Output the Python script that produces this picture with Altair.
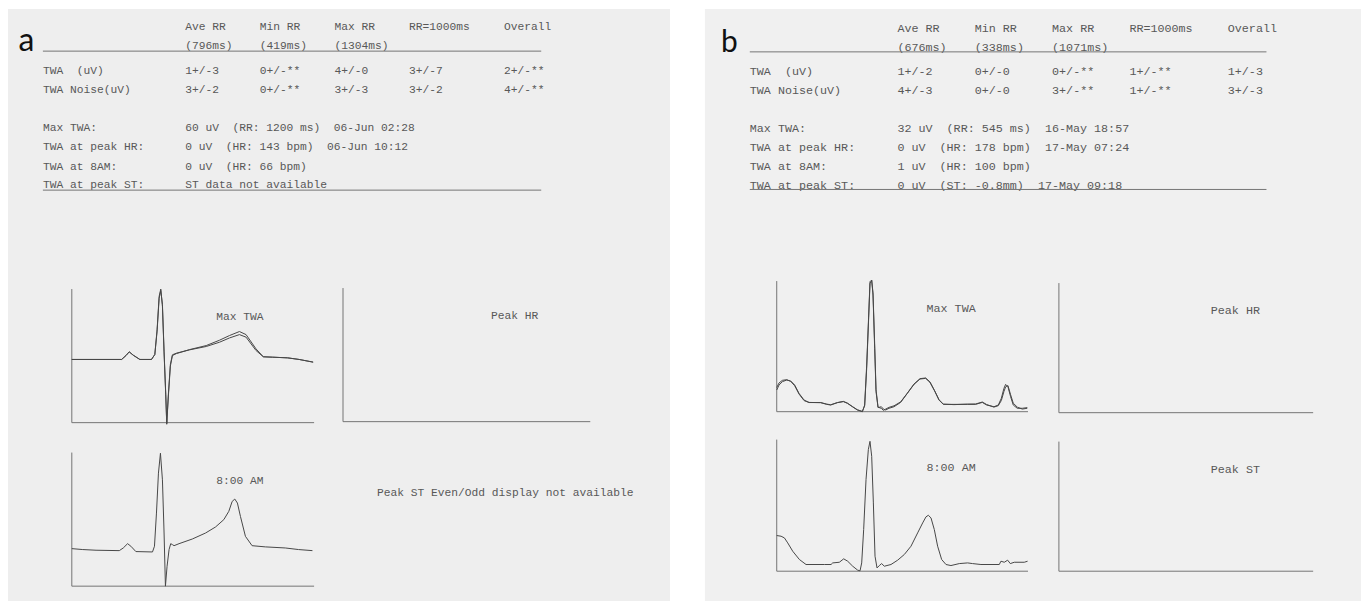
import altair as alt
import pandas as pd

NB = "\u00a0"  # non-breaking space keeps the printed spacing of the report

# ---------------- report text ----------------
COLUMNS = ["Ave RR", "Min RR", "Max RR", "RR=1000ms", "Overall"]
ROW_LABELS = ["TWA" + NB * 2 + "(uV)", "TWA Noise(uV)"]
SUMMARY_LABELS = ["Max TWA:", "TWA at peak HR:", "TWA at 8AM:", "TWA at peak ST:"]

A_RR_MS = ["(796ms)", "(419ms)", "(1304ms)"]
A_TWA = ["1+/-3", "0+/-**", "4+/-0", "3+/-7", "2+/-**"]
A_NOISE = ["3+/-2", "0+/-**", "3+/-3", "3+/-2", "4+/-**"]
A_MAX_TWA = ["60 uV", "(RR: 1200 ms)", "06-Jun 02:28"]
A_PEAK_HR = ["0 uV", "(HR: 143 bpm)", "06-Jun 10:12"]
A_AT_8AM = ["0 uV", "(HR: 66 bpm)"]
A_PEAK_ST = ["ST data not available"]

B_RR_MS = ["(676ms)", "(338ms)", "(1071ms)"]
B_TWA = ["1+/-2", "0+/-0", "0+/-**", "1+/-**", "1+/-3"]
B_NOISE = ["4+/-3", "0+/-0", "3+/-**", "1+/-**", "3+/-3"]
B_MAX_TWA = ["32 uV", "(RR: 545 ms)", "16-May 18:57"]
B_PEAK_HR = ["0 uV", "(HR: 178 bpm)", "17-May 07:24"]
B_AT_8AM = ["1 uV", "(HR: 100 bpm)"]
B_PEAK_ST = ["0 uV", "(ST: -0.8mm)", "17-May 09:18"]

A_NO_ST_MSG = "Peak ST Even/Odd display not available"

# ---------------- waveforms (time ms, amplitude % of panel) ----------------
A_MAX_T = [0, 102.8, 111.7, 118.5, 126.7, 140.4, 164.4, 171.3, 176.0, 180.2,
           183.6, 187.0, 190.4, 193.9, 195.9, 199.3, 203.4, 207.6, 215.8, 243.2,
           277.4, 304.8, 325.4, 345.9, 359.6, 380.2, 395.2, 414.4, 445.3, 469.2,
           498.0]
A_MAX_EVEN = [47.3, 47.3, 50.2, 53.0, 50.5, 47.3, 47.3, 51.0, 69.7, 94.5,
              100, 87.1, 52.2, 19.9, -1.2, 19.9, 42.3, 50.2, 51.7, 54.7,
              57.7, 61.7, 65.2, 68.2, 65.9, 55.2, 49.3, 49.0, 48.5, 47.3,
              45.3]
A_MAX_ODD = [47.3, 47.3, 50.2, 53.0, 50.5, 47.3, 47.3, 51.0, 68.5, 93.0,
             99.0, 88.5, 53.5, 21.0, -0.5, 21.5, 43.5, 50.8, 52.0, 54.5,
             57.0, 60.2, 63.4, 65.9, 64.0, 54.0, 49.3, 49.0, 48.5, 47.3,
             45.3]

A_8AM_T = [0, 22.6, 50.0, 98.0, 106.2, 115.1, 121.9, 132.2, 166.5, 170.6,
           174.7, 178.8, 182.9, 187.0, 190.4, 193.2, 196.6, 200.7, 204.1, 207.6,
           211.0, 221.3, 248.7, 276.1, 296.6, 313.7, 324.0, 330.9, 336.3, 341.8,
           348.0, 358.3, 372.0, 399.4, 440.5, 467.9, 496.6]
A_8AM_V = [28.1, 27.4, 26.9, 26.6, 28.6, 31.8, 29.9, 25.9, 25.6, 29.9,
           54.7, 84.6, 99.5, 79.6, 39.8, 0, 14.9, 27.4, 31.8, 31.1,
           30.3, 31.8, 35.3, 39.8, 44.3, 49.8, 56.0, 63.4, 65.2, 62.2,
           52.2, 37.3, 30.3, 29.4, 28.6, 27.4, 26.6]

B_MAX_T = [0, 4.6, 11.3, 19.9, 27.8, 35.8, 44.4, 54.4, 64.3, 87.5,
           99.5, 107.4, 120.7, 132.6, 140.6, 150.5, 160.4, 170.4, 175.0, 179.0,
           183.0, 185.6, 189.0, 191.6, 194.9, 197.6, 201.6, 208.2, 212.2, 216.8,
           223.4, 233.4, 246.6, 259.9, 273.2, 285.1, 296.4, 305.0, 314.3, 322.9,
           331.5, 352.7, 379.2, 395.8, 409.1, 417.7, 432.3, 440.9, 446.9, 452.2,
           455.5, 460.1, 465.4, 470.7, 478.7, 488.6, 498.6]
B_MAX_EVEN = [16.6, 20.4, 23.0, 24.2, 23.5, 20.4, 14.0, 8.9, 7.1, 6.9,
              5.6, 5.1, 6.9, 7.7, 6.4, 3.8, 1.3, 0, 5.1, 35.7,
              74.0, 99.5, 100.8, 89.3, 48.5, 15.3, 3.1, 3.8, 2.0, 1.3,
              2.6, 3.8, 7.1, 14.0, 20.9, 25.0, 25.5, 22.4, 15.8, 8.9,
              5.6, 5.6, 5.6, 5.6, 7.1, 5.1, 3.8, 5.1, 10.2, 17.9,
              20.9, 19.1, 11.5, 5.1, 2.6, 2.6, 3.1]
B_MAX_ODD = [18.5, 22.0, 24.0, 24.5, 23.2, 19.8, 13.5, 8.5, 7.0, 7.0,
             5.8, 5.3, 7.0, 7.9, 6.6, 4.0, 1.5, 0.2, 4.5, 33.0,
             72.0, 98.0, 100.5, 91.0, 52.0, 17.0, 3.5, 2.5, 1.0, 2.0,
             3.3, 4.5, 7.5, 14.2, 21.2, 25.3, 25.8, 22.8, 16.0, 9.2,
             5.8, 5.4, 5.8, 5.9, 7.4, 5.5, 3.5, 4.6, 8.5, 15.5,
             19.0, 20.0, 13.0, 6.5, 3.5, 2.0, 2.6]

B_8AM_T = [0, 8.6, 15.3, 21.9, 31.8, 45.1, 58.3, 94.8, 108.1, 111.4,
           124.6, 133.3, 141.2, 151.2, 161.1, 165.8, 169.1, 173.0, 177.7, 182.3,
           185.6, 189.0, 192.3, 195.6, 199.6, 204.2, 208.8, 214.1, 227.4, 240.7,
           253.9, 267.2, 280.4, 290.4, 297.0, 301.7, 307.0, 313.6, 320.2, 328.2,
           336.8, 346.7, 363.3, 379.9, 389.8, 406.4, 442.9, 446.2, 452.8, 459.5,
           464.8, 472.7, 492.6, 499.2]
B_8AM_V = [27.1, 26.6, 25.3, 21.5, 15.2, 8.9, 5.1, 5.1, 5.1, 6.3,
           6.8, 9.4, 7.6, 3.8, 0.8, 0.3, 6.3, 31.6, 69.6, 92.4,
           98.7, 87.3, 51.9, 11.4, 2.5, 4.3, 5.8, 3.8, 5.1, 8.4,
           12.7, 19.0, 29.1, 36.7, 41.3, 42.5, 40.5, 31.6, 19.0, 8.9,
           5.1, 4.3, 5.8, 6.3, 5.8, 5.1, 5.1, 7.6, 6.8, 8.4,
           5.8, 6.8, 6.8, 7.6]

# ---------------- styling / layout ----------------
MONO = "Liberation Mono"
TEXT_COLOR = "#585858"
RULE_COLOR = "#747474"
WAVE_COLOR = "#474747"
COL_POS = [21, 32, 43, 54, 68]          # printed character columns
LINES = {"head1": 0, "head2": 1, "twa": 2.25, "noise": 3.25,
         "sum": [5.2, 6.2, 7.2, 8.15], "rule1": 1.25, "rule2": 8.4}
RULE_END = 73.5


def header(rr, twa, noise, summaries, letter, xr, yr, fs, letter_col, letter_fs):
    rows = []
    for c, t in zip(COL_POS, COLUMNS):
        rows.append({"col": c, "line": LINES["head1"], "txt": t})
    for c, t in zip(COL_POS, rr):
        rows.append({"col": c, "line": LINES["head2"], "txt": t})
    rows.append({"col": 0, "line": LINES["twa"], "txt": ROW_LABELS[0]})
    rows.append({"col": 0, "line": LINES["noise"], "txt": ROW_LABELS[1]})
    for c, t in zip(COL_POS, twa):
        rows.append({"col": c, "line": LINES["twa"], "txt": t})
    for c, t in zip(COL_POS, noise):
        rows.append({"col": c, "line": LINES["noise"], "txt": t})
    for ln, lab, parts in zip(LINES["sum"], SUMMARY_LABELS, summaries):
        rows.append({"col": 0, "line": ln, "txt": lab})
        rows.append({"col": COL_POS[0], "line": ln, "txt": (NB * 2).join(parts)})
    df = pd.DataFrame(rows)
    xs = alt.Scale(domain=[0, 100], range=list(xr), nice=False, zero=False)
    ys = alt.Scale(domain=[0, 10], range=list(yr), nice=False, zero=False)
    text = alt.Chart(df).mark_text(
        align="left", baseline="middle", font=MONO, fontSize=fs, color=TEXT_COLOR
    ).encode(
        x=alt.X("col:Q", scale=xs, axis=None),
        y=alt.Y("line:Q", scale=ys, axis=None),
        text="txt:N",
    )
    rules_df = pd.DataFrame({"c0": [0, 0], "c1": [RULE_END, RULE_END],
                             "line": [LINES["rule1"], LINES["rule2"]]})
    rules = alt.Chart(rules_df).mark_rule(color=RULE_COLOR, strokeWidth=1).encode(
        x=alt.X("c0:Q", scale=xs, axis=None), x2="c1:Q",
        y=alt.Y("line:Q", scale=ys, axis=None),
    )
    lab_df = pd.DataFrame({"col": [letter_col], "line": [LINES["rule1"]], "txt": [letter]})
    lab = alt.Chart(lab_df).mark_text(
        align="left", baseline="alphabetic", font="Lato", fontSize=letter_fs, color="#111111"
    ).encode(
        x=alt.X("col:Q", scale=xs, axis=None),
        y=alt.Y("line:Q", scale=ys, axis=None),
        text="txt:N",
    )
    return alt.layer(text, rules, lab)


def panel(xr, yr, title, fs, series=None, frame=True, title_at=(347, 79), align="center"):
    xs = alt.Scale(domain=[0, 500], range=list(xr), nice=False, zero=False)
    ys = alt.Scale(domain=[0, 100], range=list(yr), nice=False, zero=False)
    layers = []
    if frame:
        fr = pd.DataFrame({"x": [0, 0], "y": [0, 0], "x2": [0, 500], "y2": [100, 0]})
        layers.append(alt.Chart(fr).mark_rule(color=RULE_COLOR, strokeWidth=1).encode(
            x=alt.X("x:Q", scale=xs, axis=None), x2="x2:Q",
            y=alt.Y("y:Q", scale=ys, axis=None), y2="y2:Q"))
    if series:
        recs = []
        for name, (ts, vs) in series.items():
            for t, v in zip(ts, vs):
                recs.append({"t": t, "v": v, "trace": name})
        layers.append(alt.Chart(pd.DataFrame(recs)).mark_line(
            color=WAVE_COLOR, strokeWidth=1.0).encode(
            x=alt.X("t:Q", scale=xs, axis=None),
            y=alt.Y("v:Q", scale=ys, axis=None),
            detail="trace:N"))
    tdf = pd.DataFrame({"x": [title_at[0]], "y": [title_at[1]], "txt": [title]})
    layers.append(alt.Chart(tdf).mark_text(
        align=align, baseline="middle", font=MONO, fontSize=fs, color=TEXT_COLOR).encode(
        x=alt.X("x:Q", scale=xs, axis=None),
        y=alt.Y("y:Q", scale=ys, axis=None),
        text="txt:N"))
    return alt.layer(*layers)


FS_A, FS_B = 11.3, 11.75

page_a = alt.layer(
    header(A_RR_MS, A_TWA, A_NOISE, [A_MAX_TWA, A_PEAK_HR, A_AT_8AM, A_PEAK_ST],
           "a", (35, 715), (18, 213), FS_A, -3.6, 32),
    panel((64, 307), (415, 281), "Max TWA", FS_A,
          {"even": (A_MAX_T, A_MAX_EVEN), "odd": (A_MAX_T, A_MAX_ODD)}),
    panel((336, 584), (414, 280), "Peak HR", FS_A),
    panel((64, 307), (579, 445), "8:00 AM", FS_A, {"beat": (A_8AM_T, A_8AM_V)}),
    panel((336, 584), (579, 445), A_NO_ST_MSG, FS_A, frame=False,
          title_at=(68.5, 70), align="left"),
).resolve_scale(x="independent", y="independent").properties(
    width=664, height=594, view=alt.ViewBackground(fill="#eeeeee", stroke=None))

page_b = alt.layer(
    header(B_RR_MS, B_TWA, B_NOISE, [B_MAX_TWA, B_PEAK_HR, B_AT_8AM, B_PEAK_ST],
           "b", (45, 750), (19, 212), FS_B, -4.1, 30),
    panel((72, 324), (404, 273), "Max TWA", FS_B,
          {"even": (B_MAX_T, B_MAX_EVEN), "odd": (B_MAX_T, B_MAX_ODD)}),
    panel((355, 610), (405, 275), "Peak HR", FS_B),
    panel((72, 324), (564, 432), "8:00 AM", FS_B, {"beat": (B_8AM_T, B_8AM_V)}),
    panel((355, 610), (564, 434), "Peak ST", FS_B),
).resolve_scale(x="independent", y="independent").properties(
    width=658, height=594, view=alt.ViewBackground(fill="#f0f0f0", stroke=None))

chart = alt.hconcat(page_a, page_b, spacing=35).properties(
    padding=0, background="white"
).configure_view(stroke=None)

chart.save("out.html", embed_options={"renderer": "svg", "actions": False})
